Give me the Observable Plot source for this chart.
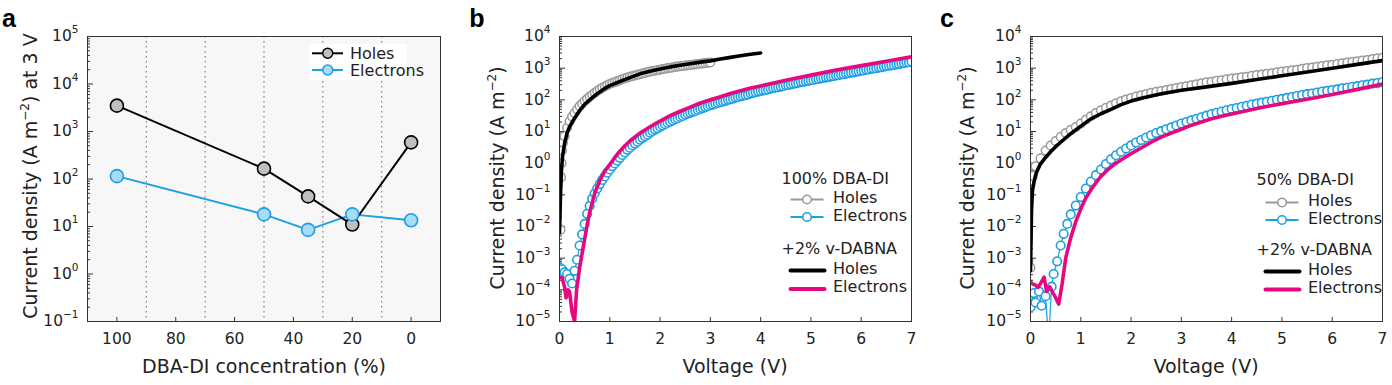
<!DOCTYPE html>
<html><head><meta charset="utf-8">
<script src="https://cdn.jsdelivr.net/npm/d3@7"></script>
<script src="https://cdn.jsdelivr.net/npm/@observablehq/plot@0.6"></script>
<style>
body{margin:0;background:#fff;}
#wrap{position:relative;width:1392px;height:385px;overflow:hidden}
#wrap svg{position:absolute;top:0;overflow:visible}
</style></head><body><div id="wrap"></div>
<script>
// ---------- Panel a data ----------
const concentration = [100, 50, 35, 20, 0];
const holesAt3V = [3500, 165, 43, 11, 590];
const electronsAt3V = [115, 18, 8.5, 18, 13.5];
const dividerLines = [90, 70, 50, 30, 10];
const concTicks = [100, 80, 60, 40, 20, 0];
const voltTicks = [0, 1, 2, 3, 4, 5, 6, 7];

// ---------- Panel b data: [voltage V, log10 J (A m^-2)] ----------
const b100Holes = [[0.02,-2.1],[0.03,-0.45],[0.04,0.0],[0.05,0.4],[0.07,0.65],[0.1,0.85],[0.15,1.12],[0.2,1.32],[0.25,1.47],[0.3,1.58],[0.35,1.7],[0.4,1.8],[0.45,1.88],[0.5,1.96],[0.55,2.03],[0.6,2.1],[0.65,2.16],[0.7,2.22],[0.75,2.28],[0.8,2.33],[0.85,2.38],[0.9,2.42],[0.95,2.46],[1.0,2.5],[1.05,2.53],[1.1,2.56],[1.15,2.59],[1.2,2.62],[1.25,2.65],[1.3,2.68],[1.35,2.7],[1.4,2.73],[1.45,2.75],[1.5,2.77],[1.55,2.79],[1.6,2.81],[1.65,2.83],[1.7,2.85],[1.75,2.87],[1.8,2.89],[1.85,2.91],[1.9,2.92],[1.95,2.94],[2.0,2.95],[2.05,2.97],[2.1,2.98],[2.15,3.0],[2.2,3.01],[2.25,3.02],[2.3,3.04],[2.35,3.05],[2.4,3.06],[2.45,3.07],[2.5,3.08],[2.55,3.09],[2.6,3.1],[2.65,3.11],[2.7,3.12],[2.75,3.13],[2.8,3.14],[2.85,3.15],[2.9,3.16],[2.95,3.17],[3.0,3.18]];
const b100Electrons = [[0.0,-3.3],[0.05,-3.35],[0.1,-3.45],[0.15,-3.5],[0.2,-3.65],[0.25,-3.8],[0.3,-3.4],[0.35,-3.05],[0.4,-2.6],[0.45,-2.25],[0.5,-1.92],[0.55,-1.6],[0.6,-1.35],[0.65,-1.12],[0.7,-0.95],[0.75,-0.8],[0.8,-0.66],[0.85,-0.53],[0.9,-0.42],[0.95,-0.3],[1.0,-0.2],[1.05,-0.1],[1.1,-0.01],[1.15,0.08],[1.2,0.17],[1.25,0.26],[1.3,0.34],[1.35,0.42],[1.4,0.49],[1.45,0.56],[1.5,0.62],[1.55,0.68],[1.6,0.74],[1.65,0.8],[1.7,0.85],[1.75,0.9],[1.8,0.96],[1.85,1.01],[1.9,1.06],[1.95,1.1],[2.0,1.15],[2.05,1.19],[2.1,1.23],[2.15,1.27],[2.2,1.31],[2.25,1.35],[2.3,1.39],[2.35,1.42],[2.4,1.46],[2.45,1.49],[2.5,1.53],[2.55,1.56],[2.6,1.59],[2.65,1.62],[2.7,1.65],[2.75,1.68],[2.8,1.71],[2.85,1.74],[2.9,1.77],[2.95,1.8],[3.0,1.83],[3.05,1.85],[3.1,1.88],[3.15,1.9],[3.2,1.93],[3.25,1.95],[3.3,1.97],[3.35,2.0],[3.4,2.02],[3.45,2.04],[3.5,2.07],[3.55,2.09],[3.6,2.11],[3.65,2.13],[3.7,2.15],[3.75,2.17],[3.8,2.2],[3.85,2.22],[3.9,2.24],[3.95,2.26],[4.0,2.28],[4.05,2.3],[4.1,2.31],[4.15,2.33],[4.2,2.35],[4.25,2.37],[4.3,2.39],[4.35,2.4],[4.4,2.42],[4.45,2.44],[4.5,2.46],[4.55,2.47],[4.6,2.49],[4.65,2.51],[4.7,2.52],[4.75,2.54],[4.8,2.56],[4.85,2.57],[4.9,2.59],[4.95,2.6],[5.0,2.62],[5.05,2.63],[5.1,2.65],[5.15,2.66],[5.2,2.68],[5.25,2.69],[5.3,2.71],[5.35,2.72],[5.4,2.74],[5.45,2.75],[5.5,2.77],[5.55,2.78],[5.6,2.8],[5.65,2.81],[5.7,2.83],[5.75,2.84],[5.8,2.86],[5.85,2.87],[5.9,2.89],[5.95,2.9],[6.0,2.92],[6.05,2.93],[6.1,2.95],[6.15,2.96],[6.2,2.98],[6.25,2.99],[6.3,3.0],[6.35,3.02],[6.4,3.03],[6.45,3.05],[6.5,3.06],[6.55,3.08],[6.6,3.09],[6.65,3.1],[6.7,3.12],[6.75,3.13],[6.8,3.15],[6.85,3.16],[6.9,3.18],[6.95,3.19],[7.0,3.21]];
const bDabnaHoles = [[0,-2.2],[0.02,-1.0],[0.04,-0.2],[0.06,0.2],[0.1,0.62],[0.15,0.95],[0.2,1.15],[0.3,1.42],[0.4,1.66],[0.5,1.86],[0.6,2.0],[0.7,2.13],[0.8,2.25],[0.9,2.36],[1.0,2.45],[1.2,2.58],[1.4,2.7],[1.6,2.82],[1.8,2.9],[2.0,2.97],[2.2,3.04],[2.4,3.09],[2.6,3.14],[2.8,3.19],[3.0,3.23],[3.2,3.29],[3.4,3.34],[3.6,3.39],[3.8,3.44],[4.0,3.48]];
const bDabnaElectrons = [[0,-3.6],[0.05,-3.62],[0.1,-3.9],[0.13,-4.25],[0.17,-4.0],[0.2,-4.05],[0.25,-4.7],[0.3,-5.0],[0.34,-4.0],[0.4,-3.3],[0.45,-2.85],[0.5,-2.4],[0.55,-1.95],[0.6,-1.55],[0.7,-0.95],[0.8,-0.55],[0.9,-0.25],[1.0,-0.05],[1.1,0.18],[1.2,0.38],[1.3,0.55],[1.4,0.7],[1.5,0.83],[1.6,0.95],[1.7,1.05],[1.8,1.15],[1.9,1.24],[2.0,1.33],[2.2,1.5],[2.4,1.64],[2.6,1.77],[2.8,1.9],[3.0,2.0],[3.2,2.1],[3.4,2.2],[3.6,2.29],[3.8,2.37],[4.0,2.44],[4.5,2.62],[5.0,2.78],[5.5,2.94],[6.0,3.08],[6.5,3.22],[7.0,3.36]];

// ---------- Panel c data ----------
const c50Holes = [[0.0,-3.3],[0.05,-0.4],[0.1,-0.1],[0.2,0.15],[0.3,0.4],[0.4,0.56],[0.5,0.7],[0.6,0.83],[0.7,0.95],[0.8,1.05],[0.9,1.14],[1.0,1.25],[1.1,1.37],[1.2,1.48],[1.3,1.58],[1.4,1.67],[1.5,1.75],[1.6,1.82],[1.7,1.89],[1.8,1.95],[1.9,2.01],[2.0,2.06],[2.1,2.1],[2.2,2.14],[2.3,2.18],[2.4,2.22],[2.5,2.25],[2.6,2.28],[2.7,2.31],[2.8,2.34],[2.9,2.37],[3.0,2.4],[3.1,2.43],[3.2,2.46],[3.3,2.49],[3.4,2.52],[3.5,2.55],[3.6,2.57],[3.7,2.6],[3.8,2.62],[3.9,2.65],[4.0,2.67],[4.1,2.69],[4.2,2.71],[4.3,2.73],[4.4,2.76],[4.5,2.78],[4.6,2.8],[4.7,2.82],[4.8,2.84],[4.9,2.87],[5.0,2.89],[5.1,2.91],[5.2,2.93],[5.3,2.95],[5.4,2.98],[5.5,3.0],[5.6,3.02],[5.7,3.04],[5.8,3.07],[5.9,3.09],[6.0,3.11],[6.1,3.13],[6.2,3.15],[6.3,3.18],[6.4,3.2],[6.5,3.22],[6.6,3.24],[6.7,3.26],[6.8,3.29],[6.9,3.31],[7.0,3.33]];
const c50Electrons = [[0.0,-4.55],[0.07,-4.1],[0.1,-4.4],[0.17,-4.05],[0.22,-4.5],[0.3,-4.2],[0.36,-5.6],[0.42,-3.9],[0.46,-3.5],[0.53,-3.1],[0.6,-2.6],[0.66,-2.23],[0.73,-1.92],[0.8,-1.62],[0.9,-1.34],[1.0,-1.07],[1.1,-0.8],[1.2,-0.58],[1.3,-0.38],[1.4,-0.2],[1.5,-0.03],[1.6,0.12],[1.7,0.25],[1.8,0.36],[1.9,0.46],[2.0,0.56],[2.1,0.65],[2.2,0.73],[2.3,0.81],[2.4,0.88],[2.5,0.95],[2.6,1.01],[2.7,1.07],[2.8,1.13],[2.9,1.19],[3.0,1.25],[3.1,1.3],[3.2,1.35],[3.3,1.4],[3.4,1.45],[3.5,1.5],[3.6,1.55],[3.7,1.59],[3.8,1.63],[3.9,1.67],[4.0,1.71],[4.1,1.74],[4.2,1.78],[4.3,1.81],[4.4,1.85],[4.5,1.88],[4.6,1.91],[4.7,1.94],[4.8,1.97],[4.9,2.0],[5.0,2.03],[5.1,2.06],[5.2,2.09],[5.3,2.12],[5.4,2.15],[5.5,2.18],[5.6,2.2],[5.7,2.23],[5.8,2.26],[5.9,2.28],[6.0,2.31],[6.1,2.33],[6.2,2.36],[6.3,2.38],[6.4,2.41],[6.5,2.43],[6.6,2.46],[6.7,2.48],[6.8,2.51],[6.9,2.53],[7.0,2.56]];
const cDabnaHoles = [[0,-3.4],[0.02,-1.5],[0.04,-0.85],[0.07,-0.6],[0.1,-0.38],[0.15,-0.18],[0.2,-0.02],[0.3,0.18],[0.4,0.36],[0.5,0.52],[0.6,0.66],[0.8,0.93],[1.0,1.17],[1.2,1.4],[1.4,1.56],[1.6,1.7],[1.8,1.85],[2.0,1.96],[2.2,2.05],[2.4,2.12],[2.6,2.19],[2.8,2.25],[3.0,2.3],[3.5,2.41],[4.0,2.52],[4.5,2.64],[5.0,2.76],[5.5,2.88],[6.0,3.0],[6.5,3.12],[7.0,3.24]];
const cDabnaElectrons = [[0,-3.76],[0.05,-3.82],[0.1,-3.85],[0.15,-3.92],[0.2,-3.8],[0.27,-3.6],[0.32,-4.05],[0.38,-3.9],[0.45,-4.1],[0.5,-4.25],[0.56,-4.45],[0.63,-3.8],[0.7,-3.0],[0.8,-2.35],[0.9,-1.85],[1.0,-1.45],[1.1,-1.1],[1.2,-0.85],[1.3,-0.62],[1.4,-0.42],[1.5,-0.26],[1.6,-0.12],[1.7,0.0],[1.8,0.1],[1.9,0.2],[2.0,0.3],[2.2,0.48],[2.4,0.66],[2.6,0.82],[2.8,0.95],[3.0,1.07],[3.2,1.2],[3.4,1.3],[3.6,1.4],[3.8,1.48],[4.0,1.55],[4.5,1.73],[5.0,1.88],[5.5,2.02],[6.0,2.17],[6.5,2.33],[7.0,2.5]];

// ---------- styling ----------
const BLUE = "#1b9fe6", PINK = "#e5097f", GRAY = "#9a9a9a";
const FONT = "'DejaVu Sans', sans-serif";
const wrap = document.getElementById("wrap");

const toRows = arr => arr.map(([v, lj]) => ({v, j: Math.pow(10, lj)}));
const decades = (lo, hi) => d3.range(lo, hi + 1).map(e => Math.pow(10, e));
const minors = (lo, hi) => { const t = []; for (let e = lo; e < hi; e++) for (let m = 2; m <= 9; m++) t.push(m * Math.pow(10, e)); return t; };
const powFmt = d => "10^" + Math.round(Math.log10(d));

function logAxes(lo, hi) {
  return [
    Plot.axisY({ticks: decades(lo, hi), tickSize: -6, tickPadding: 15, label: null, tickFormat: powFmt, stroke: "#333"}),
    Plot.axisY({ticks: minors(lo, hi), tickSize: -3, tickPadding: 0, label: null, tickFormat: () => "", stroke: "#333"})
  ];
}

function place(svg, left) {
  svg.style.left = left + "px";
  wrap.appendChild(svg);
  const s = d3.select(svg);
  s.selectAll('g[aria-label="y-axis tick label"] text').each(function () {
    const m = (this.textContent || "").match(/^10\^(.+)$/);
    if (!m) return;
    const t = d3.select(this); t.text(null);
    t.append("tspan").text("10");
    t.append("tspan").attr("dy", -8).attr("font-size", "10.5px").text(m[1].replace("-", "\u2212"));
  });
  return s;
}
function yLabel(s, x, y, rest) {
  const t = s.append("text").attr("transform", `translate(${x},${y}) rotate(-90)`)
    .attr("text-anchor", "middle").attr("font-size", "19px").attr("fill", "#222").attr("font-family", FONT);
  t.append("tspan").text("Current density (A m");
  t.append("tspan").attr("dy", -8).attr("font-size", "12px").text("\u22122");
  t.append("tspan").attr("dy", 8).text(")" + rest);
}
function xLabel(s, x, y, txt) {
  s.append("text").attr("x", x).attr("y", y).attr("text-anchor", "middle").attr("font-size", "19px")
    .attr("fill", "#222").attr("font-family", FONT).text(txt);
}
function letter(s, x, y, txt) {
  s.append("text").attr("x", x).attr("y", y).attr("font-size", "25px").attr("font-weight", "bold")
    .attr("font-family", "'Liberation Sans', Arial, sans-serif").attr("fill", "#000").text(txt);
}
function txt(s, x, y, t, size = 16) {
  s.append("text").attr("x", x).attr("y", y).attr("font-size", size + "px").attr("fill", "#222")
    .attr("font-family", FONT).attr("text-anchor", "start").text(t);
}

// ---------- Panel a ----------
const rowsA = concentration.map((c, i) => ({c, h: holesAt3V[i], e: electronsAt3V[i]}));
const plotA = Plot.plot({
  width: 460, height: 385, marginLeft: 87, marginRight: 20, marginTop: 36, marginBottom: 64,
  style: {fontFamily: FONT, fontSize: "15.5px", color: "#222", background: "transparent"},
  x: {domain: [110, -10]},
  y: {type: "log", domain: [0.1, 1e5]},
  marks: [
    Plot.frame({fill: "#f7f7f7", stroke: null}),
    Plot.ruleX(dividerLines, {stroke: "#8a8a8a", strokeWidth: 1.3, strokeDasharray: "1.5,3.5"}),
    Plot.axisX({ticks: concTicks, tickSize: -4, tickPadding: 15, label: null, tickFormat: d => String(d), stroke: "#333"}),
    ...logAxes(-1, 5),
    Plot.line(rowsA, {x: "c", y: "e", stroke: BLUE, strokeWidth: 2}),
    Plot.line(rowsA, {x: "c", y: "h", stroke: "#000", strokeWidth: 2}),
    Plot.dot(rowsA, {x: "c", y: "h", r: 6.5, fill: "#bfbfbf", stroke: "#000", strokeWidth: 1.6}),
    Plot.dot(rowsA, {x: "c", y: "e", r: 6.5, fill: "#a8dbf6", stroke: BLUE, strokeWidth: 1.6}),
    Plot.frame({stroke: "#333", strokeWidth: 1})
  ]
});
const sA = place(plotA, 0);
yLabel(sA, 37, 176, " at 3 V");
xLabel(sA, 264, 373, "DBA-DI concentration (%)");
letter(sA, 9, 27, "a");
sA.append("rect").attr("x", 310).attr("y", 44).attr("width", 97).attr("height", 36).attr("fill", "#fff");
sA.append("line").attr("x1", 312).attr("x2", 343).attr("y1", 53.3).attr("y2", 53.3).attr("stroke", "#000").attr("stroke-width", 2);
sA.append("circle").attr("cx", 327.7).attr("cy", 53.3).attr("r", 5).attr("fill", "#bfbfbf").attr("stroke", "#000").attr("stroke-width", 1.5);
sA.append("line").attr("x1", 312).attr("x2", 343).attr("y1", 70).attr("y2", 70).attr("stroke", BLUE).attr("stroke-width", 2);
sA.append("circle").attr("cx", 327.7).attr("cy", 70).attr("r", 5).attr("fill", "#a8dbf6").attr("stroke", BLUE).attr("stroke-width", 1.5);
txt(sA, 350, 58.5, "Holes", 16);
txt(sA, 350, 75.5, "Electrons", 16);

// ---------- Panels b, c ----------
function ivPanel(width, mLeft, mRight, holesOpen, elecOpen, holesLine, elecLine) {
  const H = toRows(holesOpen), E = toRows(elecOpen), HL = toRows(holesLine), EL = toRows(elecLine);
  return Plot.plot({
    width, height: 385, marginLeft: mLeft, marginRight: mRight, marginTop: 36, marginBottom: 64,
    style: {fontFamily: FONT, fontSize: "15.5px", color: "#222", background: "transparent"},
    x: {domain: [0, 7]},
    y: {type: "log", domain: [1e-5, 1e4]},
    marks: [
      Plot.axisX({ticks: voltTicks, tickSize: -4, tickPadding: 15, label: null, tickFormat: d => String(d), stroke: "#333"}),
      ...logAxes(-5, 4),
      Plot.line(H, {x: "v", y: "j", stroke: GRAY, strokeWidth: 1, clip: true}),
      Plot.line(E, {x: "v", y: "j", stroke: BLUE, strokeWidth: 1.2, clip: true}),
      Plot.dot(H, {x: "v", y: "j", r: 4.3, fill: "#fff", stroke: GRAY, strokeWidth: 1.5, clip: true}),
      Plot.dot(E, {x: "v", y: "j", r: 4.3, fill: "#fff", stroke: BLUE, strokeWidth: 1.6, clip: true}),
      Plot.line(HL, {x: "v", y: "j", stroke: "#000", strokeWidth: 3.6, strokeLinecap: "round", clip: true}),
      Plot.line(EL, {x: "v", y: "j", stroke: PINK, strokeWidth: 3.6, strokeLinecap: "round", clip: true}),
      Plot.frame({stroke: "#333", strokeWidth: 1})
    ]
  });
}
function ivLegend(s, x0, title, ys) {
  txt(s, x0, ys[0], title);
  const sx1 = x0 + 9, sx2 = x0 + 42, cx = (sx1 + sx2) / 2;
  [[ys[1], GRAY], [ys[2], BLUE]].forEach(([y, c]) => {
    s.append("line").attr("x1", sx1).attr("x2", sx2).attr("y1", y - 3.5).attr("y2", y - 3.5).attr("stroke", c).attr("stroke-width", 2);
    s.append("circle").attr("cx", cx).attr("cy", y - 3.5).attr("r", 4.3).attr("fill", "#fff").attr("stroke", c).attr("stroke-width", 1.6);
  });
  txt(s, x0 + 51.5, ys[1], "Holes");
  txt(s, x0 + 51.5, ys[2], "Electrons");
  txt(s, x0, ys[3], "+2% v-DABNA");
  [[ys[4], "#000"], [ys[5], PINK]].forEach(([y, c]) => {
    s.append("line").attr("x1", sx1).attr("x2", sx2 + 1).attr("y1", y - 3).attr("y2", y - 3).attr("stroke", c).attr("stroke-width", 4).attr("stroke-linecap", "round");
  });
  txt(s, x0 + 51.5, ys[4], "Holes");
  txt(s, x0 + 51.5, ys[5], "Electrons");
}

const plotB = ivPanel(460, 89, 19, b100Holes, b100Electrons, bDabnaHoles, bDabnaElectrons);
const sB = place(plotB, 470);
yLabel(sB, 34, 178, "");
xLabel(sB, 265, 373, "Voltage (V)");
letter(sB, 7, 27, "b");
ivLegend(sB, 311.5, "100% DBA-DI", [183.5, 203, 220.5, 253.5, 273.5, 292]);

const plotC = ivPanel(452, 90, 10, c50Holes, c50Electrons, cDabnaHoles, cDabnaElectrons);
const sC = place(plotC, 940);
yLabel(sC, 34, 178, "");
xLabel(sC, 266, 373, "Voltage (V)");
letter(sC, 7, 27, "c");
ivLegend(sC, 316.5, "50% DBA-DI", [185, 206, 223.5, 254.5, 274.5, 292.5]);
</script></body></html>
